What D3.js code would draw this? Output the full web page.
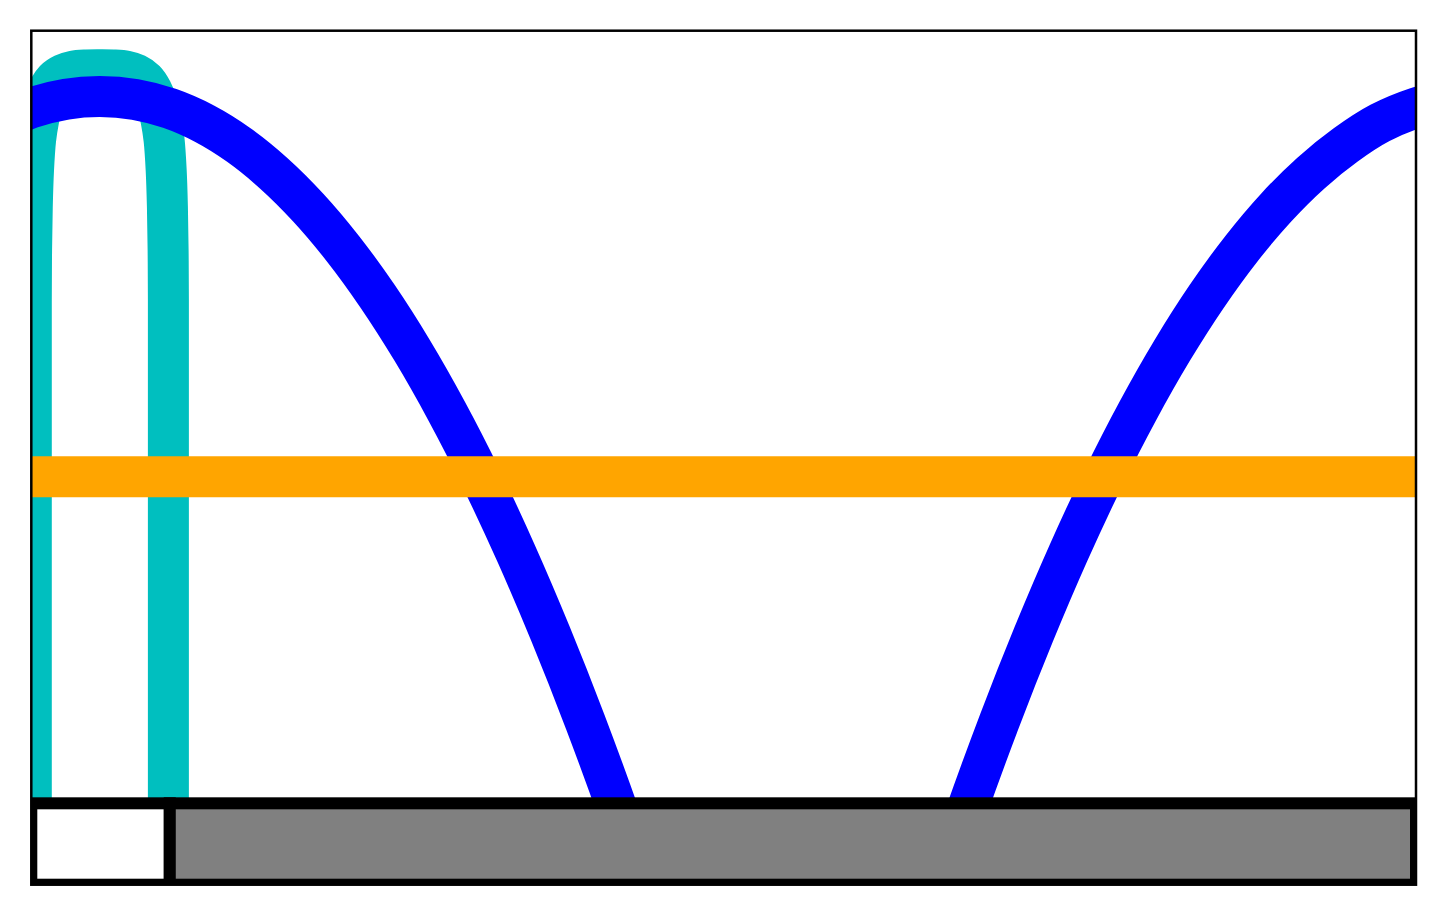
<!DOCTYPE html>
<html>
<head>
<meta charset="utf-8">
<script src="https://cdn.jsdelivr.net/npm/d3@7"></script>
<style>
  html, body { margin: 0; padding: 0; background: #ffffff; }
  svg { display: block; }
</style>
</head>
<body>
<svg id="chart" width="1446" height="914"></svg>
<script>
// ---- data (x and y as fractions of the plotted range) ----
const cyanX = [0, 0, 0, 0.0000, 0.0002, 0.0007, 0.0016, 0.0031, 0.0053, 0.0082, 0.0118, 0.0168, 0.0233, 0.0305, 0.0399,
               0.0495,
               0.0590, 0.0684, 0.0756, 0.0821, 0.0872, 0.0908, 0.0937, 0.0959, 0.0974, 0.0983, 0.0988, 0.0990, 0.0990, 0.0990, 0.0990];
const cyanY = [-0.08, 0.3000, 0.5676, 0.6846, 0.7432, 0.7936, 0.8369, 0.8720, 0.8954, 0.9150, 0.9296, 0.9418, 0.9490, 0.9527, 0.9540,
               0.9542,
               0.9540, 0.9527, 0.9490, 0.9418, 0.9296, 0.9150, 0.8954, 0.8720, 0.8369, 0.7936, 0.7432, 0.6846, 0.5676, 0.3000, -0.08];

const blueX = [-0.025, 0, 0.025, 0.0495, 0.075, 0.1, 0.125, 0.15, 0.175, 0.2, 0.225, 0.25, 0.275, 0.3, 0.325, 0.35, 0.375,
               0.4, 0.425, 0.45, 0.5, 0.5495, 0.599, 0.649, 0.674, 0.699, 0.724, 0.749, 0.774, 0.799, 0.824, 0.849, 0.874,
               0.899, 0.924, 0.949, 0.974, 1.0, 1.025];
const blueY = [0.8920, 0.9096, 0.9198, 0.9230, 0.9195, 0.9090, 0.8912, 0.8660, 0.8332, 0.7929, 0.7449, 0.6892, 0.6258, 0.5545,
               0.4754, 0.3884, 0.2935, 0.1909, 0.0801, -0.0386, -0.2995, -0.5904, -0.2995, -0.0386, 0.0801, 0.1909, 0.2935,
               0.3884, 0.4754, 0.5545, 0.6258, 0.6892, 0.7449, 0.7929, 0.8332, 0.8660, 0.8920, 0.9096, 0.9198];

const orangeX = [0, 1];
const orangeY = [0.4778, 0.4778];

const barStarts = [0, 0.1];
const barEnds = [0.1, 1];
const barTop = 0.0953;

// ---- layout ----
const svg = d3.select("#chart");
const L = 31.3, R = 1416, T = 30.7, B = 884.7;
const x = d3.scaleLinear().domain([0, 1]).range([L, R]);
const y = d3.scaleLinear().domain([0, 1]).range([B, T]);

svg.append("rect").attr("width", 1446).attr("height", 914).attr("fill", "#ffffff");

svg.append("defs").append("clipPath").attr("id", "plotclip")
  .append("rect").attr("x", L).attr("y", T).attr("width", R - L).attr("height", B - T);

const g = svg.append("g").attr("clip-path", "url(#plotclip)");

const line = d3.line()
  .x(d => x(d[0]))
  .y(d => y(d[1]))
  .curve(d3.curveCatmullRom.alpha(0.5));

const LW = 41;

g.append("path")
  .datum(cyanX.map((v, i) => [v, cyanY[i]]))
  .attr("d", line)
  .attr("fill", "none")
  .attr("stroke", "#00bfbf")
  .attr("stroke-width", LW)
  .attr("stroke-linejoin", "round");

g.append("path")
  .datum(blueX.map((v, i) => [v, blueY[i]]))
  .attr("d", line)
  .attr("fill", "none")
  .attr("stroke", "#0000ff")
  .attr("stroke-width", LW)
  .attr("stroke-linejoin", "round");

g.append("path")
  .datum(orangeX.map((v, i) => [v, orangeY[i]]))
  .attr("d", d3.line().x(d => x(d[0])).y(d => y(d[1])))
  .attr("fill", "none")
  .attr("stroke", "#ffa500")
  .attr("stroke-width", LW);

const barFills = ["#ffffff", "#808080"];
g.selectAll("rect.bar")
  .data(barStarts.map((s, i) => ({ s, e: barEnds[i], i })))
  .enter().append("rect")
  .attr("class", "bar")
  .attr("x", d => x(d.s))
  .attr("y", y(barTop))
  .attr("width", d => x(d.e) - x(d.s))
  .attr("height", y(0) - y(barTop))
  .attr("fill", d => barFills[d.i])
  .attr("stroke", "#000000")
  .attr("stroke-width", 12);

// frame
svg.append("rect")
  .attr("x", x(0)).attr("y", y(1))
  .attr("width", x(1) - x(0)).attr("height", y(0) - y(1))
  .attr("fill", "none")
  .attr("stroke", "#000000")
  .attr("stroke-width", 2.5);
</script>
</body>
</html>
